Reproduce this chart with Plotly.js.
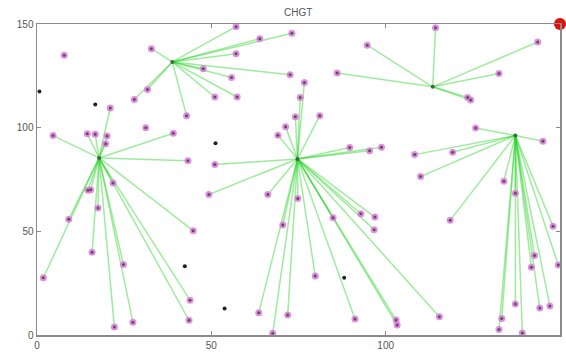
<!DOCTYPE html>
<html>
<head>
<meta charset="utf-8">
<script src="https://cdn.plot.ly/plotly-3.0.1.min.js"></script>
<style>html,body{margin:0;padding:0;background:#fff;}#chart{width:566px;height:354px;}</style>
</head>
<body>
<div id="chart"></div>
<script>
// Cluster heads
var chX = [17.8, 38.8, 74.7, 113.5, 137.2];
var chY = [85.4, 131.7, 84.9, 119.7, 96.2];

// Member nodes (x, y, index of their cluster head)
var memX = [
  4.6, 14.4, 16.7, 20.1, 19.7, 21.0, 39.1, 43.3, 14.6, 15.4, 21.8, 17.5, 9.1, 1.8, 15.8, 24.8, 22.2, 27.5, 44.8, 43.9, 43.6,
  32.8, 31.7, 27.9, 42.9, 57.1, 63.9, 73.1, 57.1, 47.7, 72.6, 55.8, 51.0, 57.4,
  76.7, 75.5, 74.1, 81.1, 71.3, 69.1, 89.7, 95.4, 98.8, 51.0, 49.3, 66.2, 74.8, 70.5, 84.9, 92.9, 96.9, 96.7, 79.8, 63.6, 71.9, 91.2, 67.6, 103.0, 103.3, 115.4,
  86.1, 94.7, 114.3, 143.6, 132.5, 123.5, 124.4,
  125.8, 145.1, 108.3, 119.2, 110.0, 118.5, 133.9, 137.2, 148.0, 142.7, 141.8, 149.5, 137.2, 144.2, 147.1, 133.3, 132.5, 139.2
];
var memY = [
  96.2, 97.1, 96.8, 96.0, 92.3, 109.5, 97.3, 84.1, 69.8, 70.1, 73.3, 61.3, 55.8, 27.6, 39.9, 34.0, 3.8, 6.1, 50.3, 16.8, 7.1,
  138.1, 118.4, 113.6, 105.8, 148.7, 142.9, 145.5, 135.7, 128.4, 125.5, 124.2, 114.8, 114.8,
  121.8, 114.6, 105.3, 105.8, 100.5, 96.4, 90.4, 88.9, 90.5, 82.2, 67.8, 67.8, 65.8, 53.1, 56.6, 58.5, 56.9, 50.8, 28.4, 10.7, 9.6, 7.7, 0.8, 7.2, 4.8, 8.8,
  126.4, 139.8, 148.2, 141.3, 126.1, 114.6, 113.3,
  99.8, 93.4, 87.0, 88.1, 76.4, 55.3, 74.2, 68.4, 52.4, 38.3, 32.7, 33.8, 15.0, 13.0, 14.0, 7.9, 2.6, 1.0
];
var memCH = [
  0,0,0,0,0,0,0,0,0,0,0,0,0,0,0,0,0,0,0,0,0,
  1,1,1,1,1,1,1,1,1,1,1,1,1,
  2,2,2,2,2,2,2,2,2,2,2,2,2,2,2,2,2,2,2,2,2,2,2,2,2,2,
  3,3,3,3,3,3,3,
  4,4,4,4,4,4,4,4,4,4,4,4,4,4,4,4,4,4
];

// Unconnected nodes
var loneX = [7.8, 31.2];
var loneY = [134.9, 100.0];
var deadX = [0.7, 16.7, 51.2, 42.4, 53.8, 88.1];
var deadY = [117.4, 111.2, 92.5, 33.2, 12.8, 27.6];

// Base station
var bsX = [150];
var bsY = [150];

var tickVals = [0, 50, 100, 150];
var tickText = ['0', '50', '100', '150'];

var lx = [], ly = [];
for (var i = 0; i < memX.length; i++) {
  lx.push(chX[memCH[i]], memX[i], null);
  ly.push(chY[memCH[i]], memY[i], null);
}

var allX = memX.concat(loneX);
var allY = memY.concat(loneY);

var traces = [
  {x: lx, y: ly, mode: 'lines', type: 'scatter', line: {color: 'rgba(40,210,40,0.45)', width: 1.5}, hoverinfo: 'skip'},
  {x: allX, y: allY, mode: 'markers', type: 'scatter', marker: {color: 'rgba(225,120,225,0.85)', size: 7}},
  {x: allX, y: allY, mode: 'markers', type: 'scatter', marker: {color: '#555', size: 3}},
  {x: deadX, y: deadY, mode: 'markers', type: 'scatter', marker: {color: '#222', size: 4}},
  {x: chX, y: chY, mode: 'markers', type: 'scatter', marker: {color: '#3a6a3a', size: 4}},
  {x: bsX, y: bsY, mode: 'markers', type: 'scatter', cliponaxis: false, marker: {color: '#e01010', size: 12}}
];

var axisCommon = {
  range: [0, 150], showgrid: false, zeroline: false, showline: true, mirror: 'ticks',
  linecolor: '#8a8a8a', linewidth: 1.5, ticks: 'inside', ticklen: 4, tickcolor: '#8a8a8a',
  tickvals: tickVals, ticktext: tickText, tickfont: {family: 'Liberation Sans, Arial', size: 10, color: '#555'}
};

var layout = {
  width: 566, height: 354,
  margin: {l: 37, r: 6, t: 24, b: 19},
  showlegend: false,
  paper_bgcolor: '#fff', plot_bgcolor: '#fff',
  title: {text: 'CHGT', font: {family: 'Liberation Sans, Arial', size: 10, color: '#555'}, x: 0.527, xanchor: 'center', y: 0.975, yanchor: 'top'},
  xaxis: Object.assign({}, axisCommon),
  yaxis: Object.assign({}, axisCommon)
};

Plotly.newPlot('chart', traces, layout, {displayModeBar: false, staticPlot: true});
</script>
</body>
</html>
